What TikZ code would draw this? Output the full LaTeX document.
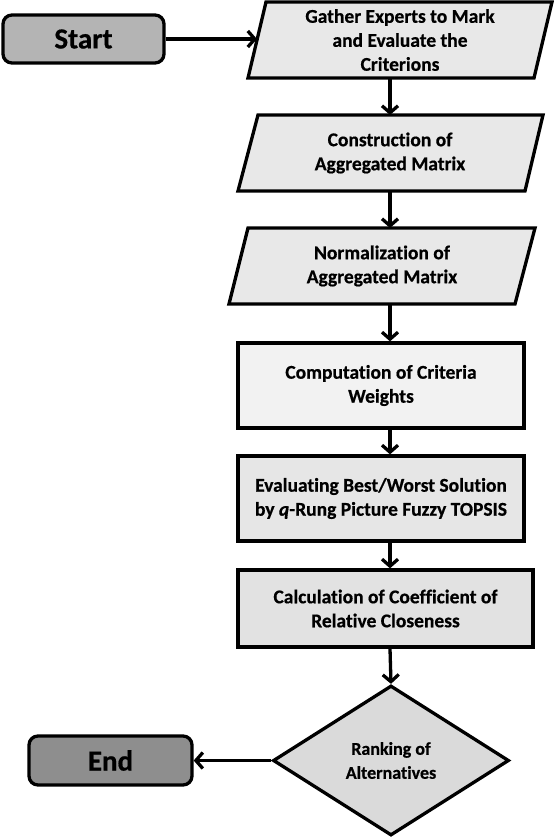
\documentclass[tikz,border=0pt]{standalone}
\usepackage{fontspec}
\setmainfont{Carlito}[Ligatures=NoCommon, BoldFeatures={FakeBold=0.6}, BoldItalicFeatures={FakeBold=0.6}]
\usetikzlibrary{arrows.meta,shapes.geometric}
\definecolor{startgray}{HTML}{B4B4B4}
\definecolor{endgray}{HTML}{8E8E8E}
\definecolor{pfill}{HTML}{E8E8E8}
\definecolor{compfill}{HTML}{F2F2F2}
\definecolor{evalfill}{HTML}{E6E6E6}
\definecolor{calcfill}{HTML}{E2E2E2}
\definecolor{rankfill}{HTML}{DADADA}
\tikzset{
  x=1pt, y=-1pt,
  txt/.style={align=center, inner sep=0pt, font=\bfseries\fontsize{19.5}{24}\selectfont},
  box/.style={txt, draw=black, line width=3.3pt, fill=#1},
  termbox/.style={box=#1, rounded corners=9pt, minimum width=161pt, minimum height=48pt,
    font=\bfseries\fontsize{29}{30}\selectfont},
  procbox/.style={box=#1, minimum height=85pt},
  shp/.style={draw=black, line width=3.3pt, line join=miter, fill=#1},
  arr/.style={line width=3.3pt, -{Straight Barb[length=7pt,width=16pt]}},
}
\begin{document}
\begin{tikzpicture}
\useasboundingbox (0,0) rectangle (554,838);
\coordinate (axis) at (390,0);

% Start
\node[termbox=startgray] (start) at (83.5,39) {Start};

% Gather (parallelogram)
\filldraw[shp=pfill] (266,2) -- (552,2) -- (534,78) -- (248,78) -- cycle;
\node[txt] (gather) at (400,40) {Gather Experts to Mark\\and Evaluate the\\Criterions};
\coordinate (gatherL) at (257,39);
\coordinate (gatherB) at (390,78);

% Construction
\filldraw[shp=pfill] (258,115) -- (543,115) -- (525,191) -- (238,191) -- cycle;
\node[txt] (constr) at (390,153) {Construction of\\Aggregated Matrix};
\coordinate (constrT) at (390,115);
\coordinate (constrB) at (390,191);

% Normalization
\filldraw[shp=pfill] (248,228) -- (535,228) -- (515,304) -- (229,304) -- cycle;
\node[txt] (normal) at (382,266) {Normalization of\\Aggregated Matrix};
\coordinate (normalT) at (390,228);
\coordinate (normalB) at (390,304);

% Computation
\node[procbox=compfill, minimum width=286pt] (comput) at (381,385.5) {Computation of Criteria\\Weights};

% Evaluating
\node[procbox=evalfill, minimum width=286pt] (evalu) at (381,498.5) {Evaluating Best/Worst Solution\\by \textit{q}-Rung Picture Fuzzy TOPSIS};

% Calculation
\node[box=calcfill, minimum width=295pt, minimum height=77pt] (calc) at (385.5,608.5) {Calculation of Coefficient of\\Relative Closeness};

% Ranking (diamond)
\node[box=rankfill, shape=diamond, minimum width=236pt, minimum height=150pt, aspect=1.55,
  font=\bfseries\fontsize{18}{24}\selectfont] (rank) at (391,760.5) {Ranking of\\Alternatives};

% End
\node[termbox=endgray, minimum width=163pt, minimum height=49pt] (end) at (110.5,760.5) {End};

% Connectors
\draw[arr] (start.east) -- (gatherL);
\draw[arr] (gatherB) -- (constrT);
\draw[arr] (constrB) -- (normalT);
\draw[arr] (normalB) -- (comput.north -| axis);
\draw[arr] (comput.south -| axis) -- (evalu.north -| axis);
\draw[arr] (evalu.south -| axis) -- (calc.north -| axis);
\draw[arr] (calc.south -| axis) -- (rank.north);
\draw[arr] (rank.west) -- (end.east);
\end{tikzpicture}
\end{document}
